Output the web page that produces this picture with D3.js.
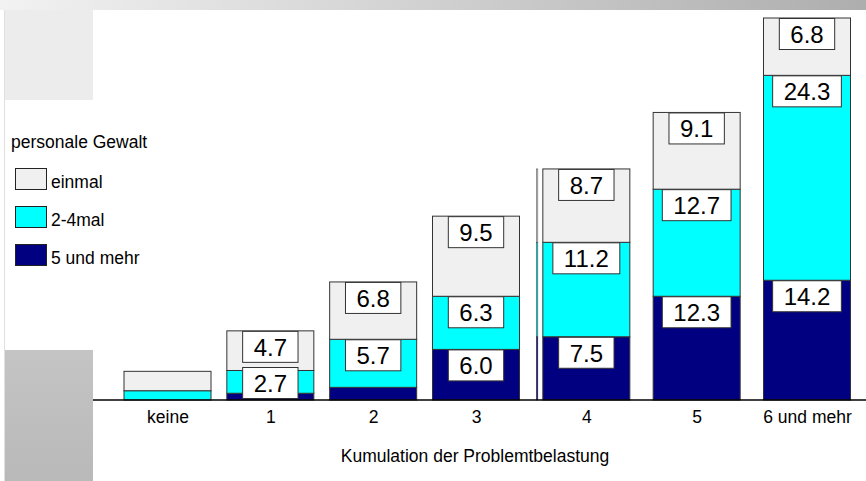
<!DOCTYPE html>
<html>
<head>
<meta charset="utf-8">
<script src="https://cdn.jsdelivr.net/npm/d3@7"></script>
<style>
  body { margin: 0; background: #fff; }
  text { font-family: 'Liberation Sans', Arial, sans-serif; }
</style>
</head>
<body>
<div id="chart"></div>
<script>
// data
const categories = ['keine', '1', '2', '3', '4', '5', '6 und mehr'];
const fuenfUndMehr = [0, 0.8, 1.5, 6.0, 7.5, 12.3, 14.2];
const zweiBisVier = [1.1, 2.7, 5.7, 6.3, 11.2, 12.7, 24.3];
const einmal = [2.3, 4.7, 6.8, 9.5, 8.7, 9.1, 6.8];
const seriesNames = ['5 und mehr', '2-4mal', 'einmal'];
const colors = ['#000080', '#00ffff', '#f0f0f0'];

const width = 866, height = 481;

const svg = d3.select('#chart')
    .append('svg')
    .attr('width', width)
    .attr('height', height);

// background decoration
const defs = svg.append('defs');
const topGrad = defs.append('linearGradient').attr('id', 'topGrad');
topGrad.append('stop').attr('offset', '0%').attr('stop-color', '#f2f2f2');
topGrad.append('stop').attr('offset', '100%').attr('stop-color', '#aeaeae');
const botGrad = defs.append('linearGradient').attr('id', 'botGrad')
    .attr('x1', 0).attr('x2', 0).attr('y1', 0).attr('y2', 1);
botGrad.append('stop').attr('offset', '0%').attr('stop-color', '#c4c4c4');
botGrad.append('stop').attr('offset', '100%').attr('stop-color', '#b9b9b9');

svg.append('rect').attr('x', 0).attr('y', 0).attr('width', width).attr('height', 10)
    .attr('fill', 'url(#topGrad)');
svg.append('rect').attr('x', 4).attr('y', 10).attr('width', 89).attr('height', 90)
    .attr('fill', '#ececec');
svg.append('rect').attr('x', 4).attr('y', 350).attr('width', 89).attr('height', 131)
    .attr('fill', 'url(#botGrad)');
svg.append('line').attr('x1', 4.5).attr('x2', 4.5).attr('y1', 10).attr('y2', height)
    .attr('stroke', '#e0e0e0');

// scales
const x = d3.scaleLinear().domain([0, 3, 6]).range([167.5, 476, 807]);
const y = d3.scaleLinear().domain([0, 45.3]).range([400, 18]);
const barW = 87;

const rows = categories.map((c, i) => ({
    cat: c, i: i,
    '5 und mehr': fuenfUndMehr[i],
    '2-4mal': zweiBisVier[i],
    'einmal': einmal[i]
}));
const stack = d3.stack().keys(seriesNames)(rows);

// thin sliver next to bar "4"
const sliver = svg.append('g');
stack.forEach((s, k) => {
    sliver.append('rect')
        .attr('x', x(4) - barW / 2 - 6.5)
        .attr('y', y(s[4][1]))
        .attr('width', 1.5)
        .attr('height', y(s[4][0]) - y(s[4][1]))
        .attr('fill', colors[k])
        .attr('stroke', '#333')
        .attr('stroke-width', 0.5);
});

// bars
const layers = svg.append('g').selectAll('g')
    .data(stack)
    .enter()
    .append('g')
    .attr('fill', (d, k) => colors[k]);

layers.selectAll('rect')
    .data(d => d)
    .enter()
    .append('rect')
    .attr('x', d => x(d.data.i) - barW / 2)
    .attr('y', d => y(d[1]))
    .attr('width', barW)
    .attr('height', d => y(d[0]) - y(d[1]))
    .attr('stroke', '#333')
    .attr('stroke-width', 1);

// value labels
const labels = [];
stack.forEach(s => {
    s.forEach(d => {
        const v = d[1] - d[0];
        if (v >= 2.5) labels.push({ i: d.data.i, top: d[1], v: v });
    });
});

const lab = svg.append('g').selectAll('g')
    .data(labels)
    .enter()
    .append('g')
    .attr('transform', d => `translate(${x(d.i)}, ${Math.min(y(d.top), y(0) - 33)})`);

lab.append('rect').attr('class', 'box');
lab.append('text')
    .attr('text-anchor', 'middle')
    .attr('y', 25)
    .attr('font-size', '24px')
    .attr('fill', '#000')
    .text(d => d.v.toFixed(1));
lab.each(function () {
    const g = d3.select(this);
    const w = g.select('text').node().getComputedTextLength() + 22;
    g.select('rect')
        .attr('x', -w / 2)
        .attr('y', 0.5)
        .attr('width', w)
        .attr('height', 31)
        .attr('fill', '#fff')
        .attr('stroke', '#333')
        .attr('stroke-width', 1);
});

// x axis
const axis = svg.append('g')
    .attr('transform', `translate(0, ${y(0)})`)
    .call(d3.axisBottom(x)
        .tickValues(d3.range(categories.length))
        .tickFormat(i => categories[i])
        .tickSize(0)
        .tickPadding(11));
axis.select('.domain').remove();
axis.selectAll('text')
    .attr('font-family', "'Liberation Sans', Arial, sans-serif")
    .attr('font-size', '17.5px')
    .attr('fill', '#000');

svg.append('line')
    .attr('x1', 93).attr('x2', width)
    .attr('y1', y(0)).attr('y2', y(0))
    .attr('stroke', '#000')
    .attr('stroke-width', 1.5);

svg.append('text')
    .attr('x', 475)
    .attr('y', 462)
    .attr('text-anchor', 'middle')
    .attr('font-size', '17.5px')
    .text('Kumulation der Problemtbelastung');

// legend
svg.append('text')
    .attr('x', 11)
    .attr('y', 148)
    .attr('font-size', '17.5px')
    .text('personale Gewalt');

const legendOrder = ['einmal', '2-4mal', '5 und mehr'];
const leg = svg.append('g').selectAll('g')
    .data(legendOrder)
    .enter()
    .append('g')
    .attr('transform', (d, i) => `translate(15, ${168 + i * 38})`);
leg.append('rect')
    .attr('x', 0.5).attr('y', 0.5)
    .attr('width', 31).attr('height', 21)
    .attr('fill', d => colors[seriesNames.indexOf(d)])
    .attr('stroke', '#222');
leg.append('text')
    .attr('x', 36)
    .attr('y', 20)
    .attr('font-size', '17.5px')
    .text(d => d);
</script>
</body>
</html>
